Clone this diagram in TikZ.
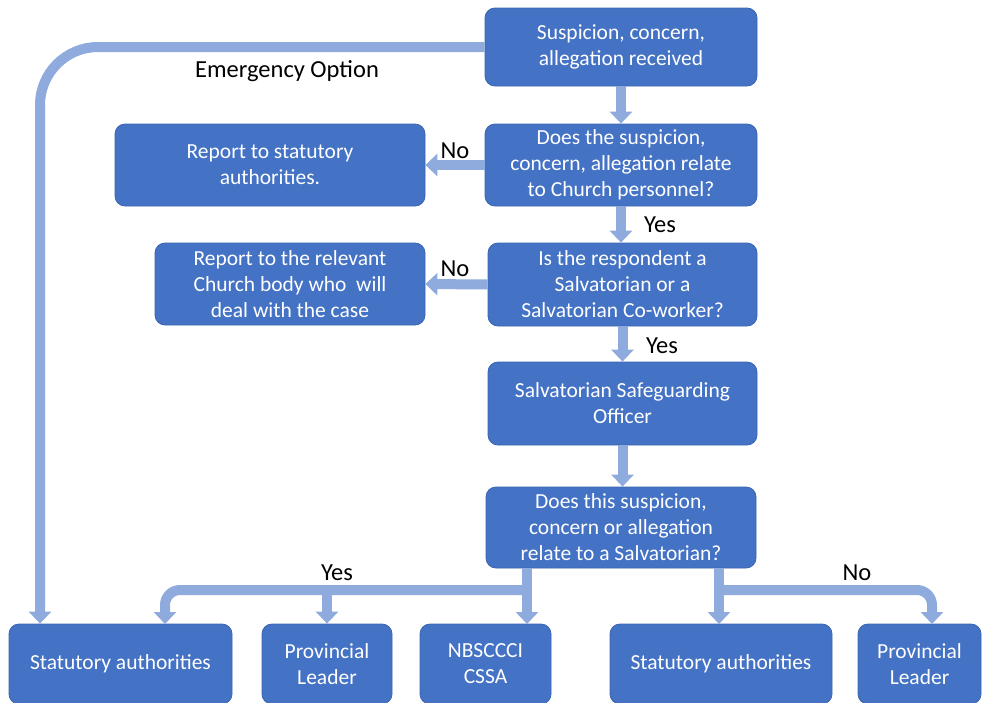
\documentclass[tikz,border=0pt]{standalone}
\usepackage{fontspec}
\setmainfont{Carlito}
\usetikzlibrary{arrows.meta}
\definecolor{boxblue}{HTML}{4472C4}
\definecolor{boxedge}{HTML}{3A64B0}
\definecolor{arrblue}{HTML}{8FAADC}
\tikzset{
  fbox/.style={draw=boxedge, line width=0.8pt, fill=boxblue, rounded corners=10pt, text=white,
    align=center, font=\fontsize{21.5}{26}\selectfont, inner sep=2pt},
  conn/.style={draw=arrblue, line width=10pt, -{Triangle[width=22pt,length=12pt]}},
  lbl/.style={text=black, font=\fontsize{24.5}{26}\selectfont, inner sep=0pt}
}
\begin{document}
\begin{tikzpicture}[x=1pt,y=-1pt]
\useasboundingbox (0,0) rectangle (982,702);
\begin{scope}
\clip (0,0) rectangle (982,702);
% boxes
\node[fbox, minimum width=272pt, minimum height=78pt] (b1) at (621,47) {Suspicion, concern,\\allegation received};
\node[fbox, minimum width=272pt, minimum height=82pt] (b2) at (621,165) {Does the suspicion,\\concern, allegation relate\\to Church personnel?};
\node[fbox, minimum width=269pt, minimum height=83pt] (b3) at (622.5,284.5) {Is the respondent a\\Salvatorian or a\\Salvatorian Co-worker?};
\node[fbox, minimum width=269pt, minimum height=83pt] (b4) at (622.5,403.5) {Salvatorian Safeguarding\\Officer};
\node[fbox, minimum width=270pt, minimum height=81pt] (b5) at (621,527.5) {Does this suspicion,\\concern or allegation\\relate to a Salvatorian?};
\node[fbox, minimum width=310pt, minimum height=82pt] (b6) at (270,165) {Report to statutory\\authorities.};
\node[fbox, minimum width=270pt, minimum height=82pt] (b7) at (290,284) {Report to the relevant\\Church body who\ \ will\\deal with the case};
\node[fbox, minimum width=223pt, minimum height=80pt] (s1) at (120.5,664) {Statutory authorities};
\node[fbox, minimum width=130pt, minimum height=80pt] (p1) at (327,664) {Provincial\\Leader};
\node[fbox, minimum width=131pt, minimum height=80pt] (n1) at (485.5,664) {NBSCCCI\\CSSA};
\node[fbox, minimum width=222pt, minimum height=80pt] (s2) at (721,664) {Statutory authorities};
\node[fbox, minimum width=123pt, minimum height=80pt] (p2) at (919.5,664) {Provincial\\Leader};
% coordinates
\coordinate (e1) at (40,47);
\coordinate (jL) at (527,590);
\coordinate (jR) at (719,590);
\coordinate (tS1) at (165,624);
\coordinate (tP2) at (932,624);
\coordinate (tN1) at (527,624);
\coordinate (tS2) at (719,624);
% connectors
\draw[conn, rounded corners=58pt] (b1.west) -- (e1) -- (e1 |- s1.north);
\draw[conn] (b1.south) -- (b2.north);
\draw[conn] (b2.south) -- (b2.south |- b3.north);
\draw[conn] (b3.south) -- (b3.south |- b4.north);
\draw[conn] (b4.south) -- (b4.south |- b5.north);
\draw[conn] (b2.west) -- (b6.east);
\draw[conn] (b3.west) -- (b7.east);
\draw[conn] (b5.south -| jL) -- (tN1);
\draw[conn, rounded corners=15pt] (jL) -| (tS1);
\draw[conn] (p1.north |- jL) -- (p1.north);
\draw[conn] (b5.south -| jR) -- (tS2);
\draw[conn, rounded corners=15pt] (jR) -| (tP2);
% labels
\node[lbl] (lem) at (287,71) {Emergency Option};
\node[lbl] (ln1) at (455,151) {No};
\node[lbl] (ly1) at (660,225) {Yes};
\node[lbl] (ln2) at (455,269) {No};
\node[lbl] (ly2) at (662,346) {Yes};
\node[lbl] (ly3) at (337,573) {Yes};
\node[lbl] (ln3) at (857,573) {No};
\end{scope}
\end{tikzpicture}
\end{document}
